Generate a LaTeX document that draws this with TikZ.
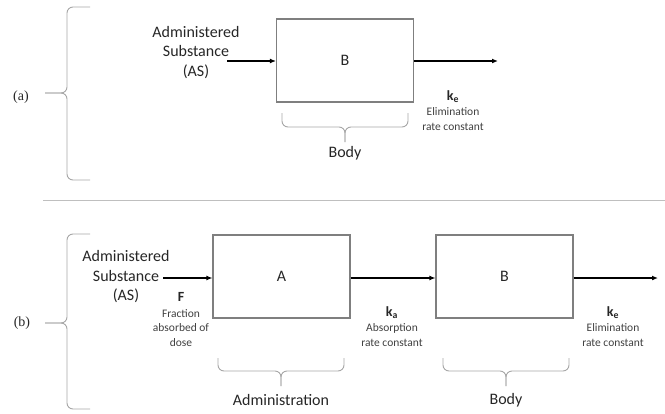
\documentclass[tikz,border=0pt]{standalone}
\usepackage{fontspec}
\setmainfont{Carlito}
\newfontfamily\serifl{Liberation Serif}
\usetikzlibrary{arrows.meta}
\definecolor{boxgray}{HTML}{7F7F7F}
\definecolor{bracegray}{HTML}{A6A6A6}
\definecolor{rulegray}{HTML}{BFBFBF}
\definecolor{txt}{HTML}{262626}
\definecolor{smalltxt}{HTML}{404040}
\begin{document}
\begin{tikzpicture}[x=1pt,y=-1pt,
  box/.style={draw=boxgray, line width=1.1pt, minimum width=137pt, minimum height=83pt, inner sep=0pt, text=txt, font=\fontsize{16}{19}\selectfont},
  flow/.style={line width=1.4pt, -{Latex[length=6pt,width=5pt]}},
  bracepath/.style={draw=bracegray, line width=0.9pt, rounded corners=6pt},
  big/.style={font=\fontsize{16}{19.5}\selectfont, align=center, inner sep=0pt, text=txt},
  small/.style={font=\fontsize{11.5}{14.5}\selectfont, align=center, inner sep=0pt, text=smalltxt},
  kstyle/.style={font=\bfseries\fontsize{14}{16}\selectfont, inner sep=0pt, text=txt},
  partlabel/.style={font=\serifl\fontsize{14}{16}\selectfont, inner sep=0pt, text=txt}]
\useasboundingbox (0,0) rectangle (665,413);

% divider
\draw[rulegray, line width=0.8pt] (43,200) -- (665,200);

% ---------- (a) ----------
\node[partlabel] (la) at (21,97) {(a)};
\draw[bracepath] (90,7) -- (67,7) -- (67,93) -- (45,93);
\draw[bracepath] (45,93) -- (67,93) -- (67,180) -- (90,180);

\node[big] (asA) at (196,52.5) {Administered\\Substance\\(AS)};
\coordinate (asAend) at (227,61);
\node[box] (bA) at (345,60.5) {B};
\coordinate (outA) at (498,61);
\draw[flow] (asAend) -- (bA.west |- asAend);
\draw[flow] (bA.east |- outA) -- (outA);

\node[kstyle] (keA) at (453,97) {k\textsubscript{e}};
\node[small] (elA) at (453,119) {Elimination\\rate constant};

\draw[bracepath] (282,113) -- (282,127) -- (345,127) -- (345,142);
\draw[bracepath] (408,113) -- (408,127) -- (345,127) -- (345,142);
\node[big] (bodyA) at (345,153) {Body};

% ---------- (b) ----------
\node[partlabel] (lb) at (22,323) {(b)};
\draw[bracepath] (90,234) -- (67,234) -- (67,323) -- (45,323);
\draw[bracepath] (45,323) -- (67,323) -- (67,409) -- (90,409);

\node[big] (asB) at (126,277) {Administered\\Substance\\(AS)};
\coordinate (asBend) at (163,278);
\node[box] (aB) at (281.5,276.5) {A};
\node[box] (bB) at (504.5,276.5) {B};
\coordinate (outB) at (658,278);
\draw[flow] (asBend) -- (aB.west |- asBend);
\draw[flow] (aB.east |- asBend) -- (bB.west |- asBend);
\draw[flow] (bB.east |- outB) -- (outB);

\node[kstyle] (fB) at (181,297) {F};
\node[small] (frB) at (181,328) {Fraction\\absorbed of\\dose};
\node[kstyle] (kaB) at (392,313) {k\textsubscript{a}};
\node[small] (abB) at (392,335) {Absorption\\rate constant};
\node[kstyle] (keB) at (613,313) {k\textsubscript{e}};
\node[small] (elB) at (613,335) {Elimination\\rate constant};

\draw[bracepath] (218,358) -- (218,371) -- (281,371) -- (281,386);
\draw[bracepath] (344,358) -- (344,371) -- (281,371) -- (281,386);
\node[big] (admB) at (281,400) {Administration};

\draw[bracepath] (443,358) -- (443,371) -- (506,371) -- (506,386);
\draw[bracepath] (569,358) -- (569,371) -- (506,371) -- (506,386);
\node[big] (bodyB) at (506,400) {Body};
\end{tikzpicture}
\end{document}
